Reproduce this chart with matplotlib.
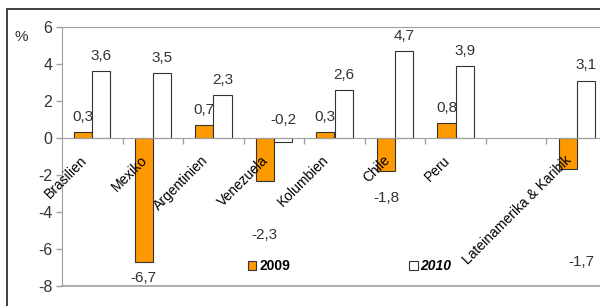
import matplotlib
matplotlib.use("Agg")
import matplotlib.pyplot as plt
from matplotlib.patches import Rectangle
import numpy as np

plt.rcParams['font.family'] = ['Liberation Sans', 'DejaVu Sans']

# Daten
laender = ['Brasilien', 'Mexiko', 'Argentinien', 'Venezuela', 'Kolumbien',
           'Chile', 'Peru', '', 'Lateinamerika & Karibik']
werte_2009 = [0.3, -6.7, 0.7, -2.3, 0.3, -1.8, 0.8, np.nan, -1.7]
werte_2010 = [3.6, 3.5, 2.3, -0.2, 2.6, 4.7, 3.9, np.nan, 3.1]
y_ticks = [-8, -6, -4, -2, 0, 2, 4, 6]

# Lage der Beschriftungen fuer negative Werte (wie im Original verschoben)
label_pos_2009 = {1: (0, -7.55), 3: (0, -5.25), 5: (0, -3.25), 8: (0.23, -6.7)}
label_pos_2010 = {3: (0, 0.97)}

GRAU = '#a0a0a0'
TEXT = '#333333'

fig = plt.figure(figsize=(6, 3.06), dpi=100)
ax = fig.add_axes([62/600, 1 - 286/306, 545/600, 259/306])

# Rahmen um die ganze Grafik
fig.patches.append(Rectangle((7/600, -0.2), 1.2, 1.2 - 9/306,
                             transform=fig.transFigure, fill=False,
                             edgecolor='#404040', linewidth=1.4))

x = np.arange(len(laender))
breite = 0.3
ax.bar(x - breite/2, werte_2009, breite, color='#ff9900', edgecolor='#333333',
       linewidth=0.8, label='2009', zorder=2)
ax.bar(x + breite/2, werte_2010, breite, color='white', edgecolor='#333333',
       linewidth=0.8, label='2010', zorder=2)

ax.set_xlim(-0.5, len(laender) - 0.5)
ax.set_ylim(-8, 6)
ax.set_yticks(y_ticks)
ax.set_yticklabels([str(v) for v in y_ticks])
ax.tick_params(axis='y', colors=GRAU, labelcolor=TEXT, labelsize=11.5,
               length=4, width=1, pad=3)

# x-Achse auf der Nulllinie
ax.spines['bottom'].set_position(('data', 0))
ax.spines['bottom'].set_color(GRAU)
ax.spines['bottom'].set_zorder(3)
ax.set_xticks(np.arange(0.5, len(laender) - 0.5, 1))
ax.set_xticklabels([])
ax.tick_params(axis='x', colors=GRAU, length=4, width=1, direction='out')
for s in ['left', 'top', 'right']:
    ax.spines[s].set_color(GRAU)
ax.axhline(-8, color=GRAU, linewidth=1.2, clip_on=False)

# Laendernamen
for i, name in enumerate(laender):
    if name:
        ax.annotate(name, xy=(i, 0), xytext=(-5.5, -14.5),
                    textcoords='offset points', ha='right', va='center',
                    rotation=45, rotation_mode='anchor', fontsize=10,
                    color='black', zorder=5)

# Werte
def beschriften(werte, versatz, sonder):
    for i, v in enumerate(werte):
        if np.isnan(v):
            continue
        txt = f'{v:.1f}'.replace('.', ',')
        if i in sonder:
            dx, yy = sonder[i]
            ax.text(i + versatz + dx, yy, txt, ha='center', va='center',
                    fontsize=11, color=TEXT)
        else:
            ax.annotate(txt, xy=(i + versatz, v), xytext=(0, 11),
                        textcoords='offset points', ha='center', va='center',
                        fontsize=11, color=TEXT)

beschriften(werte_2009, -breite/2, label_pos_2009)
beschriften(werte_2010, breite/2, label_pos_2010)

fig.text(21/600, 1 - 37/306, '%', ha='center', va='center', fontsize=11,
         color=TEXT)

leg = ax.legend(loc='center', bbox_to_anchor=(0.528, 0.077), ncol=2,
                frameon=False, handlelength=0.6, handleheight=0.6,
                handletextpad=0.2, columnspacing=8.6, fontsize=10)
texte = leg.get_texts()
texte[0].set_fontweight('bold')
texte[1].set_fontweight('bold')
texte[1].set_fontstyle('italic')

fig.savefig('out.png', dpi=100)
